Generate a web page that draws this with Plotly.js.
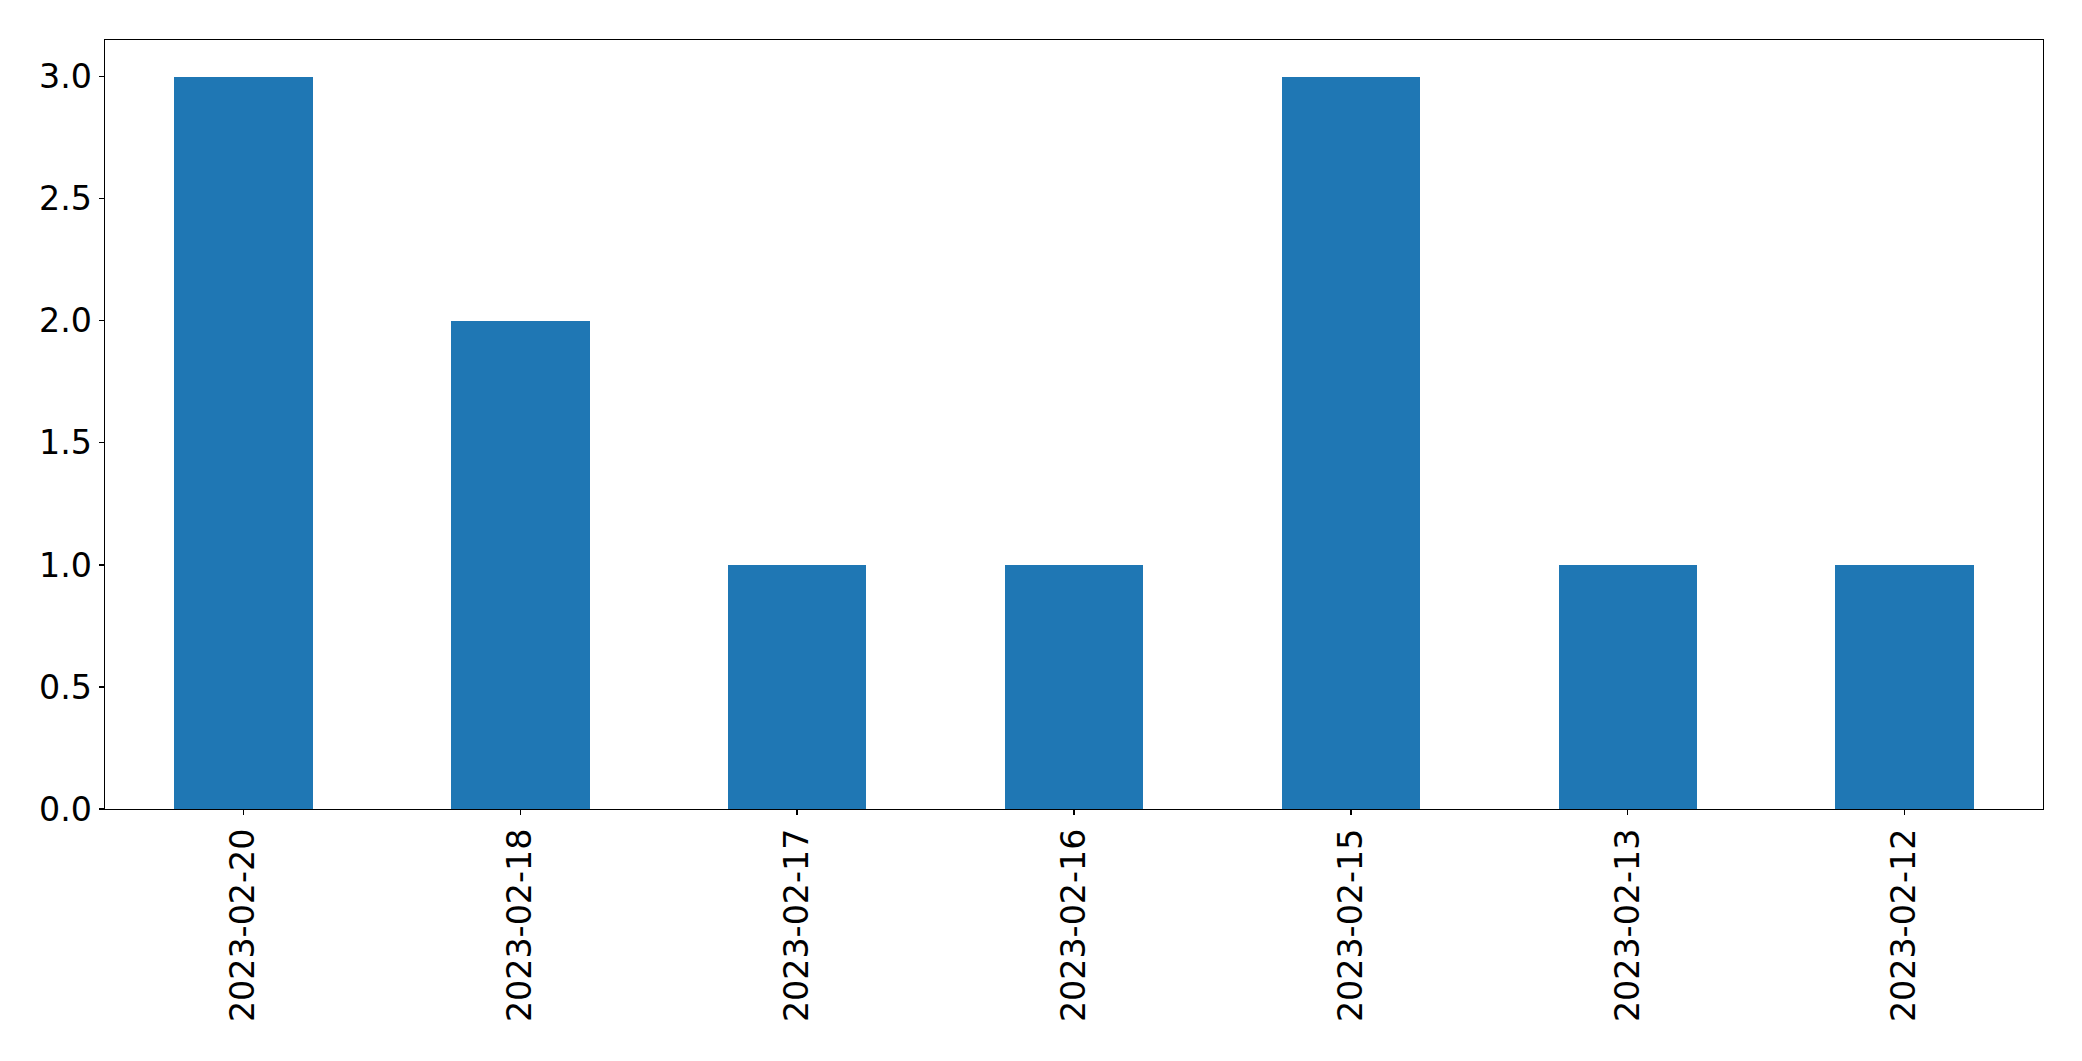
<!DOCTYPE html>
<html>
<head>
<meta charset="utf-8">
<script src="https://cdn.plot.ly/plotly-3.0.1.min.js"></script>
<style>html,body{margin:0;padding:0;background:#fff;}#chart{width:2082px;height:1061px;}</style>
</head>
<body>
<div id="chart"></div>
<script>
const categories = ["2023-02-20", "2023-02-18", "2023-02-17", "2023-02-16", "2023-02-15", "2023-02-13", "2023-02-12"];
const counts = [3, 2, 1, 1, 3, 1, 1];
const yTickVals = [0, 0.5, 1, 1.5, 2, 2.5, 3];
const yTickText = ["0.0", "0.5", "1.0", "1.5", "2.0", "2.5", "3.0"];

const trace = {
  type: "bar",
  x: categories,
  y: counts,
  width: 0.5,
  marker: {color: "#1f77b4", line: {width: 0}},
  hoverinfo: "x+y"
};

const font = {family: "DejaVu Sans, sans-serif", size: 33.3, color: "#000"};

const layout = {
  width: 2082,
  height: 1061,
  margin: {l: 105, r: 39, t: 40, b: 252, pad: 0},
  paper_bgcolor: "#fff",
  plot_bgcolor: "#fff",
  showlegend: false,
  font: font,
  bargap: 0,
  xaxis: {
    type: "category",
    range: [-0.5, 6.5],
    tickangle: -90,
    tickfont: font,
    ticks: "outside",
    ticklen: 5,
    tickwidth: 1.3,
    tickcolor: "#000",
    showline: true,
    linecolor: "#000",
    linewidth: 1.3,
    mirror: true,
    showgrid: false,
    zeroline: false,
    automargin: false
  },
  yaxis: {
    range: [0, 3.15],
    tickvals: yTickVals,
    ticktext: yTickText,
    tickfont: font,
    ticks: "outside",
    ticklen: 5,
    tickwidth: 1.3,
    tickcolor: "#000",
    showline: true,
    linecolor: "#000",
    linewidth: 1.3,
    mirror: true,
    showgrid: false,
    zeroline: false,
    automargin: false
  }
};

Plotly.newPlot("chart", [trace], layout, {displayModeBar: false, staticPlot: true});
</script>
</body>
</html>
